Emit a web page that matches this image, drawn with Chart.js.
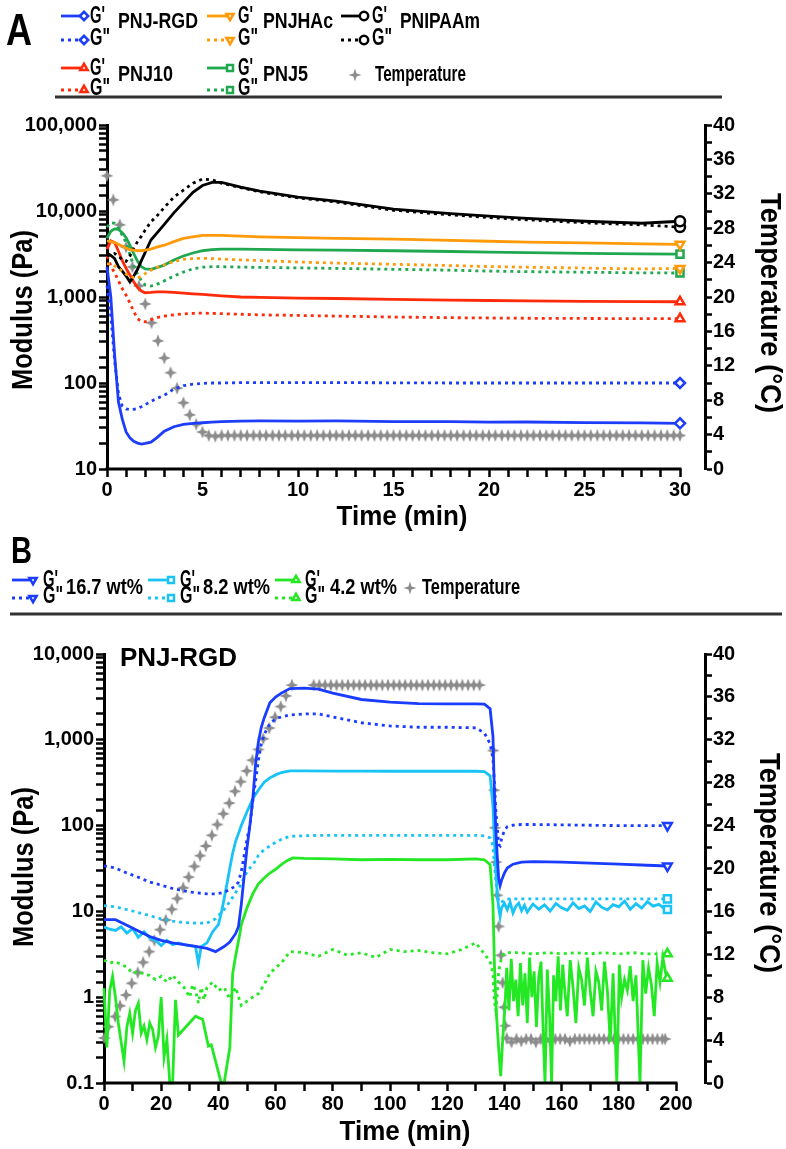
<!DOCTYPE html>
<html>
<head>
<meta charset="utf-8">
<script src="https://cdn.jsdelivr.net/npm/chart.js@4.4.1/dist/chart.umd.min.js"></script>
<style>
  body { margin:0; background:#fff; width:786px; height:1149px; position:relative; overflow:hidden; }
  canvas { position:absolute; left:0; }
  #chartA { top:0; }
  #chartB { top:528px; }
</style>
</head>
<body>
<canvas id="chartA" width="786" height="545"></canvas>
<canvas id="chartB" width="786" height="621"></canvas>
<script>
// ---- panel A data (time in min, modulus in Pa) ----
const timeA = [0,0.2,0.4,0.6,0.8,1.0,1.2,1.4,1.6,1.8,2.0,2.3,2.6,3.0,3.5,4.0,4.5,5.0,5.5,6.0,7.0,8.0,10,12,15,18,20,22,25,28,30];
const rgdG1 = [2250,1000,210,60,38,27,23,21,20,19.5,19.8,20.5,23,27.5,31,33,34,34.5,35,35.5,36,36.2,36,36.3,35.6,35.5,35,35.2,34.6,34.3,34];
const rgdG2 = [1350,600,180,75,54,50,49,49.5,50.5,53,56,61,66,72,85,93,97,99,100,100,101,101,101,101,100.5,100,100,100,100,100,100];
const hacG1 = [4500,4400,4300,4100,3900,3700,3550,3500,3450,3450,3500,3600,3800,4000,4400,4800,5000,5200,5200,5200,5100,5000,4900,4800,4700,4550,4450,4350,4250,4150,4100];
const hacG2 = [2450,2400,2300,2150,2000,1850,1750,1680,1650,1750,1870,2050,2200,2370,2580,2740,2800,2820,2800,2760,2700,2650,2550,2480,2400,2320,2260,2220,2170,2120,2150];
const nipG1 = [3250,3050,2800,2250,2000,1750,1500,1750,2100,2650,3300,4600,5500,7000,9500,12500,16500,19800,21500,21500,19000,17000,14500,13000,10500,9300,8700,8200,7600,7200,7600];
const nipG2 = [3000,3100,3200,3000,2700,2600,3000,3700,4400,5100,6000,7500,8700,11000,14500,17500,21000,23500,23000,21000,18700,16700,14200,12700,10200,9000,8400,7900,7300,6900,6500];
const j10G1 = [3600,4500,4300,3400,2650,2150,1800,1500,1290,1170,1120,1130,1150,1150,1130,1110,1090,1070,1050,1030,1000,990,970,960,940,920,910,900,890,885,880];
const j10G2 = [3000,2300,1900,1550,1250,1050,850,680,560,520,515,545,575,600,620,635,645,650,645,640,630,620,610,600,585,575,570,566,563,560,560];
const j5G1 = [4800,5800,6200,6100,5600,4900,4000,3200,2600,2250,2120,2100,2200,2350,2700,3000,3250,3450,3550,3600,3600,3580,3530,3500,3450,3380,3330,3280,3220,3170,3150];
const j5G2 = [6500,7300,7200,6300,5200,4300,3100,2300,1850,1550,1380,1340,1400,1540,1750,1950,2130,2220,2250,2250,2230,2210,2180,2150,2100,2050,2000,1970,1940,1910,1900];
const tempTimeA = [0,0.33,0.67,1,1.33,1.67,2,2.33,2.67,3,3.33,3.67,4,4.33,4.67,5,5.33,5.67,6,6.33,6.67,7,7.33,7.67,8,8.33,8.67,9,9.33,9.67,10,10.33,10.67,11,11.33,11.67,12,12.33,12.67,13,13.33,13.67,14,14.33,14.67,15,15.33,15.67,16,16.33,16.67,17,17.33,17.67,18,18.33,18.67,19,19.33,19.67,20,20.33,20.67,21,21.33,21.67,22,22.33,22.67,23,23.33,23.67,24,24.33,24.67,25,25.33,25.67,26,26.33,26.67,27,27.33,27.67,28,28.33,28.67,29,29.33,29.67,30];
const tempA = [34.1,31.3,28.4,25.8,23.5,21.3,19.2,17.0,14.9,12.9,11.2,9.4,7.7,6.3,5.2,4.3,3.9,3.8,3.9,3.9,3.9,3.9,3.9,3.9,3.9,3.9,3.9,3.9,3.9,3.9,3.9,3.9,3.9,3.9,3.9,3.9,3.9,3.9,3.9,3.9,3.9,3.9,3.9,3.9,3.9,3.9,3.9,3.9,3.9,3.9,3.9,3.9,3.9,3.9,3.9,3.9,3.9,3.9,3.9,3.9,3.9,3.9,3.9,3.9,3.9,3.9,3.9,3.9,3.9,3.9,3.9,3.9,3.9,3.9,3.9,3.9,3.9,3.9,3.9,3.9,3.9,3.9,3.9,3.9,3.9,3.9,3.9,3.9,3.9,3.9,3.9];

// ---- panel B data (PNJ-RGD at three concentrations) ----
const timeB = [0,4,8,12,16,20,24,28,32,36,39,42,44,46,47,48,49,50,51,52,53,54,55,56,58,60,62,65,70,75,80,90,100,110,120,130,133,135,136,136.5,137,137.5,138,138.5,139,140,141,143,146,150,160,170,180,190,197];
const w167G1 = [8.0,8.0,6.9,5.9,5.1,4.6,4.3,4.1,3.9,3.7,3.4,3.9,4.4,5.5,6.6,12,26,55,100,200,520,950,1400,1800,2700,3150,3500,3950,4000,3900,3500,2950,2750,2640,2620,2620,2600,2300,1100,250,90,44,24,20,23,28,32,35.5,37.5,38,37.5,36.5,35.5,34.5,33.8];
const w167G2 = [34,32,28,25,22,20.2,18.5,17.3,16.5,16.0,16.0,16.7,18,19.8,22,29,45,70,100,190,330,580,900,1150,1550,1750,1850,1950,2000,2000,1850,1580,1450,1400,1400,1380,1200,900,600,320,150,97,60,58,70,88,97,101,103,103,102,101,100,100,100];
const w82G2 = [11.7,11.3,10.5,9.7,8.9,8.2,7.7,7.4,7.3,7.3,8.2,10.5,13,16.5,18.5,21,25,29,32,35,39,45,49,52,58,64,69,75,76,77,77,77,77,77,77,77,76,72,58,35,23,16.3,13.5,12.5,12.8,13.5,13.9,14,14,14,14,14,14,14,14];
const time82G1 = [0,2,4,6,8,10,12,14,16,18,20,22,24,26,28,30,32,33,34,36,38,40,41,42,43,44,45,46,48,50,52,54,56,58,60,62,65,70,80,90,100,110,120,130,133,135,136,136.5,137,137.5,138,138.5,139,140,141,142,143,144,145,146,147,148,150,152,154,156,158,160,162,164,166,168,170,172,174,176,178,180,182,184,186,188,190,192,194,196,197];
const w82G1 = [6.6,6.2,6.0,6.6,5.6,6.3,5.0,5.8,4.9,4.6,4.0,4.6,4.1,4.3,4.1,4.0,3.9,2.5,3.9,4.3,5.8,7.0,9.5,14,21,32,48,65,100,145,205,260,320,360,390,415,435,435,432,432,430,430,430,430,425,380,170,70,30,16,11,8.7,11,12.4,10.5,12.8,9.6,11.5,12.5,10.2,11.8,9.8,12.2,10.6,11.9,10.1,12.4,11,10.3,12.6,10.8,11.6,10,12.9,11.2,10.4,12,11.3,13.2,10.6,12.3,10.9,13,11.5,12.1,10.8,10.5];
const time42G1 = [0,1,2,3,4,5,6,7,8,9,10,11,12,13,14,15,16,17,18,19,20,21,22,23,24,25,26,32,34.5,36.5,37.5,39,41,42,44,45,46,47.5,48,50,52,54,56,58,60,62,64,66,70,80,90,100,110,120,130,133,135,136,136.5,137,137.5,138,138.7,139.4,140.2,
  140.8,141.6,142.4,143.2,144,144.8,145.6,146.4,147.2,148,148.8,149.6,150.4,151.2,152,152.8,153.6,154.2,155,155.8,156.5,157.2,158,158.8,159.6,160.4,161.2,162,163,164,165,166,167,168,169,170,171,172,173,174,175,176,177,178,179.3,180.2,181,182,183,184,185,186,187.4,188.4,189.4,190.4,191.4,192.4,193.4,194.4,195.4,196.4,197];
const w42G1 = [1.27,0.26,1.2,1.75,1.0,0.5,0.3,0.18,0.45,0.65,0.38,0.7,0.85,0.38,0.46,0.32,0.5,0.42,0.26,0.35,1.0,0.2,0.32,0.1,0.1,0.93,0.36,0.6,0.55,0.27,0.28,0.18,0.1,0.1,0.26,1.9,3.0,5.5,7,11,16,21,24.5,28,31,35,39,42,41.5,41,40,40.5,40,40,41,40,35,12,2.5,0.9,0.45,0.25,0.12,0.32,0.77,
  2.2,0.7,2.8,0.9,1.6,0.6,2.5,0.8,1.9,0.5,2.9,1.0,2.0,0.45,1.7,2.6,0.35,0.1,2.1,0.6,0.1,1.8,0.9,3.0,0.7,2.4,1.1,0.6,2.7,1.3,0.5,2.2,1.6,0.8,2.9,1.2,0.6,2.0,1.5,0.7,2.6,1.2,0.3,1.9,0.1,2.4,1.0,1.6,1.2,2.3,0.9,1.8,0.1,2.7,1.1,2.2,1.4,0.6,2.5,1.5,2.9,1.9,1.66];
const time42G2 = [0,2,4,6,8,10,12,14,16,18,20,22,24,26,28,30,31,32,33,34,35,36,38,40,42,44,46,48,50,52,54,56,58,60,62,65,70,75,80,85,90,95,100,105,110,115,120,125,130,133,135,136,136.5,137,137.5,138,139,140,145,150,155,160,165,170,175,180,185,190,197];
const w42G2 = [2.7,2.5,2.6,2.4,2.25,1.9,2.0,1.85,1.8,1.6,1.75,1.5,1.8,1.5,1.3,1.0,1.4,1.2,0.85,1.3,0.93,1.3,1.5,1.2,1.3,0.95,1.3,0.8,0.9,1.0,1.1,1.4,1.9,2.2,2.5,3.4,3.3,3.0,3.6,3.1,3.3,2.9,3.6,3.4,3.5,3.3,3.2,3.6,4.3,3.2,2.6,1.9,0.9,0.7,1.1,2.0,2.9,3.3,3.3,3.2,3.3,3.2,3.3,3.2,3.3,3.2,3.3,3.2,3.2];
const tempTimeB = [0.1,1.5,3.9,5.6,7.7,9.7,11.8,13.7,15.8,17.6,19.6,21.6,23.7,25.6,27.7,29.6,31.6,33.6,35.6,37.7,39.6,41.7,43.8,45.8,47.8,49.9,51.9,54,55.7,57.8,59.8,61.8,63.6,65.7,
  73.3,75.3,77.3,79.3,81.3,83.3,85.3,87.3,89.3,91.3,93.3,95.3,97.3,99.3,101.3,103.3,105.3,107.3,109.3,111.3,113.3,115.3,117.3,119.3,121.3,123.3,125.3,127.3,129.3,131.3,
  136.1,136.4,136.7,137.1,137.5,138,138.8,139.4,139.9,140.3,140.8,
  142.5,144.2,145.9,147.6,149.3,151,152.7,154.4,156.1,157.8,159.5,161.2,162.9,164.6,166.3,168,169.7,171.4,173.1,174.8,176.5,178.2,179.9,181.6,183.3,185,186.7,188.4,190.1,191.8,193.5,195.2,196.2];
const tempB = [4.2,5.25,6.2,7.2,8.2,9.3,10.3,11.25,12.25,13.3,14.3,15.2,16.2,17.2,18.2,19.2,20.2,21.2,22.1,23.1,24.1,25.1,26.1,27.2,28.1,29.1,30.1,31.1,32.1,33.1,34.1,35.1,36.1,37.1,
  37.1,37.1,37.1,37.1,37.1,37.1,37.1,37.1,37.1,37.1,37.1,37.1,37.1,37.1,37.1,37.1,37.1,37.1,37.1,37.1,37.1,37.1,37.1,37.1,37.1,37.1,37.1,37.1,37.1,37.1,
  31.0,27.3,23.8,20.6,17.5,14.6,11.9,9.35,7.06,5.34,4.17,
  3.8,4.1,3.9,4.1,4.1,3.8,4.1,4.1,3.9,4.1,4.1,4.1,3.9,4.1,4.1,4.1,4.1,4.1,4.1,4.1,4.1,4.1,4.1,4.1,4.1,4.1,4.1,4.1,4.1,4.1,4.1,4.1,4.1];

const FONT = 'Liberation Sans';
const tickFont = { family: FONT, size: 20, weight: 'bold' };

Chart.defaults.font.family = FONT;
Chart.defaults.font.weight = 'bold';
Chart.defaults.color = '#000';
Chart.defaults.animation = false;

const GRAY = '#8c8c8c';
function starPath(g, x, y, r, ri) {
  g.beginPath();
  for (let i = 0; i < 8; i++) {
    const a = i * Math.PI / 4 - Math.PI / 2;
    const rr = i % 2 ? ri : r;
    g.lineTo(x + rr * Math.cos(a), y + rr * Math.sin(a));
  }
  g.closePath();
}
const starImg = (() => {
  const c = document.createElement('canvas');
  c.width = 14; c.height = 14;
  const g = c.getContext('2d');
  g.fillStyle = GRAY;
  starPath(g, 7, 7, 6.5, 2.6);
  g.fill();
  return c;
})();

function line(label, xs, ys, color, dotted, style, rot) {
  return {
    label, yAxisID: 'y', order: 1, clip: false,
    data: xs.map((x, i) => ({ x, y: ys[i] })),
    borderColor: color, borderWidth: 2.8,
    borderDash: dotted ? [3, 4] : [],
    pointRadius: c => c.dataIndex === ys.length - 1 ? 5 : 0,
    pointStyle: style, pointRotation: rot || 0,
    pointBackgroundColor: '#fff', pointBorderColor: color, pointBorderWidth: 2.5
  };
}
function temp(xs, ys) {
  return {
    label: 'Temperature', yAxisID: 'yT', order: 10, clip: false, showLine: false,
    data: xs.map((x, i) => ({ x, y: ys[i] })),
    pointStyle: starImg, pointRadius: 7
  };
}

function scales(o) {
  const grid = { drawOnChartArea: false, tickColor: '#000', tickLength: 8, tickWidth: 2.5 };
  return {
    x: {
      type: 'linear', min: 0, max: o.xMax, border: { display: false }, grid,
      ticks: { stepSize: o.xStep, autoSkip: false, maxRotation: 0, padding: 1, font: tickFont,
        callback: v => (v % o.xLabel === 0 && v <= o.xEnd) ? v : '' },
      afterBuildTicks: s => { s.ticks = s.ticks.filter(t => t.value <= o.xEnd + 1e-6); },
      afterFit: s => { s.height = o.h - o.bottom; }
    },
    y: {
      type: 'logarithmic', position: 'left', min: o.yMin, max: o.yMax,
      border: { color: '#000', width: 3 }, grid,
      ticks: { autoSkip: false, padding: 2, font: tickFont,
        callback: v => { const l = Math.log10(v); return Math.abs(l - Math.round(l)) < 1e-6 ? v.toLocaleString('en-US') : ''; } },
      afterFit: s => { s.width = o.left; }
    },
    yT: {
      type: 'linear', position: 'right', min: 0, max: 40,
      border: { color: '#000', width: 3 }, grid: Object.assign({}, grid, { tickLength: 7 }),
      ticks: { stepSize: 2, autoSkip: false, padding: 1, font: tickFont, callback: v => v % 4 === 0 ? v : '' },
      afterFit: s => { s.width = 786 - o.right; }
    }
  };
}

// text drawn condensed like the original figure (height from size, width from maxW)
function txt(c, s, x, y, size, maxW, base, align) {
  c.font = `bold ${size}px ${FONT}`; c.fillStyle = '#000';
  c.textAlign = align || 'left'; c.textBaseline = base || 'middle';
  c.fillText(s, x, y, maxW);
}
function rtxt(c, s, x, y, rot, size, maxW) {
  c.save(); c.translate(x, y); c.rotate(rot);
  txt(c, s, 0, 0, size, maxW, 'middle', 'center');
  c.restore();
}
function titles(chart, t) {
  const c = chart.ctx;
  rtxt(c, 'Modulus (Pa)', t.mx, t.my, -Math.PI / 2, 30, 160);
  rtxt(c, 'Temperature (°C)', t.tx, t.ty, Math.PI / 2, 30, 220);
  txt(c, 'Time (min)', t.xx, t.xy, 28, 131, 'middle', 'center');
}
function pair(c, e) {
  [[e.y1, []], [e.y2, [3, 4]]].forEach(([y, dash]) => {
    c.save();
    c.strokeStyle = e.color; c.lineWidth = 2.8; c.setLineDash(dash);
    c.beginPath(); c.moveTo(e.x0, y); c.lineTo(e.x1, y); c.stroke();
    c.restore();
    c.save();
    c.fillStyle = '#fff'; c.strokeStyle = e.color; c.lineWidth = 2.5;
    Chart.helpers.drawPoint(c, { pointStyle: e.style, radius: 4.2, rotation: e.rot || 0, borderWidth: 2.5 }, e.x1 + 2, y);
    c.restore();
  });
  txt(c, "G'", e.gx, e.y1 + 1, 23, 15);
  txt(c, 'G"', e.gx, e.y2 - 1, 23, 20);
  txt(c, e.label, e.lx, e.ly, 22, e.lw);
}
function star(c, x, y) {
  c.save(); c.fillStyle = GRAY; starPath(c, x, y, 6.5, 2.2); c.fill(); c.restore();
}
function xAxisLine(chart, end) {
  const c = chart.ctx, xs = chart.scales.x, y = chart.chartArea.bottom;
  c.save(); c.strokeStyle = '#000'; c.lineWidth = 3;
  c.beginPath(); c.moveTo(xs.getPixelForValue(0) - 1.5, y); c.lineTo(xs.getPixelForValue(end) + 1.5, y); c.stroke();
  c.restore();
}
function rule(c, x0, x1, y) {
  c.save(); c.strokeStyle = '#333'; c.lineWidth = 3;
  c.beginPath(); c.moveTo(x0, y); c.lineTo(x1, y); c.stroke(); c.restore();
}

const decoA = {
  id: 'decoA',
  afterDraw(chart) {
    const c = chart.ctx;
    xAxisLine(chart, 30);
    titles(chart, { mx: 24, my: 310, tx: 769, ty: 303, xx: 402, xy: 517 });
    txt(c, 'A', 6, 45, 44, 26, 'alphabetic');
    pair(c, { x0: 61, x1: 82, y1: 16, y2: 40, gx: 90, lx: 118, ly: 22, lw: 80, color: '#1d3dfa', style: 'rectRot', label: 'PNJ-RGD' });
    pair(c, { x0: 207, x1: 228, y1: 16, y2: 40, gx: 238, lx: 263, ly: 22, lw: 70, color: '#ff9a0a', style: 'triangle', rot: 180, label: 'PNJHAc' });
    pair(c, { x0: 341, x1: 362, y1: 16, y2: 40, gx: 372, lx: 400, ly: 22, lw: 80, color: '#000', style: 'circle', label: 'PNIPAAm' });
    pair(c, { x0: 61, x1: 82, y1: 68, y2: 90, gx: 90, lx: 118, ly: 75, lw: 55, color: '#ff2a0a', style: 'triangle', label: 'PNJ10' });
    pair(c, { x0: 207, x1: 228, y1: 68, y2: 90, gx: 238, lx: 263, ly: 75, lw: 45, color: '#1fa84f', style: 'rect', label: 'PNJ5' });
    star(c, 355, 75);
    txt(c, 'Temperature', 375, 75, 22, 91);
    rule(c, 55, 722, 97);
  }
};

const decoB = {
  id: 'decoB',
  afterDraw(chart) {
    const c = chart.ctx;
    xAxisLine(chart, 200);
    titles(chart, { mx: 25, my: 339, tx: 768, ty: 335, xx: 405, xy: 604 });
    txt(c, 'B', 11, 35, 36, 21, 'alphabetic');
    pair(c, { x0: 12, x1: 31, y1: 52, y2: 70, gx: 43, lx: 66, ly: 60, lw: 77, color: '#1a3cff', style: 'triangle', rot: 180, label: '16.7 wt%' });
    pair(c, { x0: 148, x1: 169, y1: 52, y2: 70, gx: 180, lx: 203, ly: 60, lw: 67, color: '#19c3f5', style: 'rect', label: '8.2 wt%' });
    pair(c, { x0: 275, x1: 294, y1: 52, y2: 70, gx: 305, lx: 330, ly: 60, lw: 67, color: '#25e825', style: 'triangle', label: '4.2 wt%' });
    star(c, 410, 60);
    txt(c, 'Temperature', 422, 60, 22, 98);
    rule(c, 10, 782, 86);
    txt(c, 'PNJ-RGD', 120, 131, 26, 120);
  }
};

new Chart(document.getElementById('chartA'), {
  type: 'line',
  data: { datasets: [
    line("G' PNJ-RGD", timeA, rgdG1, '#1d3dfa', false, 'rectRot'),
    line('G" PNJ-RGD', timeA, rgdG2, '#1d3dfa', true, 'rectRot'),
    line("G' PNJHAc", timeA, hacG1, '#ff9a0a', false, 'triangle', 180),
    line('G" PNJHAc', timeA, hacG2, '#ff9a0a', true, 'triangle', 180),
    line("G' PNIPAAm", timeA, nipG1, '#000', false, 'circle'),
    line('G" PNIPAAm', timeA, nipG2, '#000', true, 'circle'),
    line("G' PNJ10", timeA, j10G1, '#ff2a0a', false, 'triangle'),
    line('G" PNJ10', timeA, j10G2, '#ff2a0a', true, 'triangle'),
    line("G' PNJ5", timeA, j5G1, '#1fa84f', false, 'rect'),
    line('G" PNJ5', timeA, j5G2, '#1fa84f', true, 'rect'),
    temp(tempTimeA, tempA)
  ] },
  options: {
    responsive: false,
    layout: { padding: { top: 125, left: 0, right: 0, bottom: 0 } },
    plugins: { legend: { display: false }, tooltip: { enabled: false } },
    scales: scales({ h: 545, bottom: 469, left: 107, right: 705, xMax: 30 * 598 / 573, xEnd: 30, xStep: 1, xLabel: 5,
      yMin: 10, yMax: 100000 })
  },
  plugins: [decoA]
});

new Chart(document.getElementById('chartB'), {
  type: 'line',
  data: { datasets: [
    line("G' 16.7 wt%", timeB, w167G1, '#1a3cff', false, 'triangle', 180),
    line('G" 16.7 wt%', timeB, w167G2, '#1a3cff', true, 'triangle', 180),
    line("G' 8.2 wt%", time82G1, w82G1, '#19c3f5', false, 'rect'),
    line('G" 8.2 wt%', timeB, w82G2, '#19c3f5', true, 'rect'),
    line("G' 4.2 wt%", time42G1, w42G1, '#25e825', false, 'triangle'),
    line('G" 4.2 wt%', time42G2, w42G2, '#25e825', true, 'triangle'),
    temp(tempTimeB, tempB)
  ] },
  options: {
    responsive: false,
    layout: { padding: { top: 126, left: 0, right: 0, bottom: 0 } },
    plugins: { legend: { display: false }, tooltip: { enabled: false } },
    scales: scales({ h: 621, bottom: 555, left: 104, right: 705, xMax: 200 * 601 / 572, xEnd: 200, xStep: 10, xLabel: 20,
      yMin: 0.1, yMax: 10000 })
  },
  plugins: [decoB]
});
</script>
</body>
</html>
